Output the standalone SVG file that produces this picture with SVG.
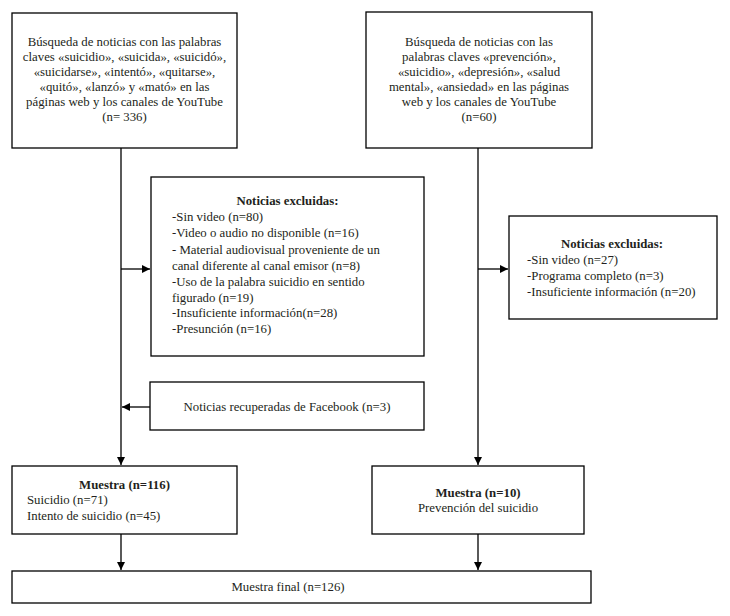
<svg xmlns="http://www.w3.org/2000/svg" width="730" height="616" viewBox="0 0 730 616">
<defs>
<style>
.box{fill:#fff;stroke:#000;stroke-width:1.3}
text{font-family:"Liberation Serif","Times New Roman",serif;font-size:12.8px;fill:#231f20}
.c{text-anchor:middle}
.b{font-weight:bold}
.ln{stroke:#000;stroke-width:1.3;fill:none}
</style>
<marker id="ah" viewBox="0 0 10 10" refX="10" refY="5" markerWidth="8" markerHeight="8" markerUnits="userSpaceOnUse" orient="auto">
<path d="M0,0 L10,5 L0,10 z" fill="#000"/>
</marker>
</defs>
<rect width="730" height="616" fill="#fff"/>
<g id="connectors">
<line class="ln" x1="121" y1="148" x2="121" y2="465" marker-end="url(#ah)"/>
<line class="ln" x1="121" y1="269" x2="150" y2="269" marker-end="url(#ah)"/>
<line class="ln" x1="150" y1="407" x2="122" y2="407" marker-end="url(#ah)"/>
<line class="ln" x1="478" y1="148" x2="478" y2="465" marker-end="url(#ah)"/>
<line class="ln" x1="478" y1="269" x2="508" y2="269" marker-end="url(#ah)"/>
<line class="ln" x1="121" y1="534" x2="121" y2="570" marker-end="url(#ah)"/>
<line class="ln" x1="478" y1="534" x2="478" y2="570" marker-end="url(#ah)"/>
</g>
<g id="search1">
<rect class="box" x="12" y="13" width="225" height="135"/>
<text class="c" x="124.5" y="46">Búsqueda de noticias con las palabras</text>
<text class="c" x="124.5" y="61">claves «suicidio», «suicida», «suicidó»,</text>
<text class="c" x="124.5" y="76">«suicidarse», «intentó», «quitarse»,</text>
<text class="c" x="124.5" y="91">«quitó», «lanzó» y «mató» en las</text>
<text class="c" x="124.5" y="106">páginas web y los canales de YouTube</text>
<text class="c" x="124.5" y="121">(n= 336)</text>
</g>
<g id="search2">
<rect class="box" x="366" y="12" width="226" height="136"/>
<text class="c" x="479" y="46">Búsqueda de noticias con las</text>
<text class="c" x="479" y="61">palabras claves «prevención»,</text>
<text class="c" x="479" y="76">«suicidio», «depresión», «salud</text>
<text class="c" x="479" y="91">mental», «ansiedad» en las páginas</text>
<text class="c" x="479" y="106">web y los canales de YouTube</text>
<text class="c" x="479" y="121">(n=60)</text>
</g>
<g id="excluded1">
<rect class="box" x="151" y="177" width="273" height="179"/>
<text class="c b" x="287.5" y="205">Noticias excluidas:</text>
<text x="172" y="221">-Sin video (n=80)</text>
<text x="172" y="237">-Video o audio no disponible (n=16)</text>
<text x="172" y="254">- Material audiovisual proveniente de un</text>
<text x="172" y="270">canal diferente al canal emisor (n=8)</text>
<text x="172" y="286">-Uso de la palabra suicidio en sentido</text>
<text x="172" y="302">figurado (n=19)</text>
<text x="172" y="317">-Insuficiente información(n=28)</text>
<text x="172" y="333">-Presunción (n=16)</text>
</g>
<g id="excluded2">
<rect class="box" x="509" y="216" width="208" height="103"/>
<text class="c b" x="612" y="248">Noticias excluidas:</text>
<text x="527" y="264">-Sin video (n=27)</text>
<text x="527" y="280">-Programa completo (n=3)</text>
<text x="527" y="296">-Insuficiente información (n=20)</text>
</g>
<g id="facebook">
<rect class="box" x="150" y="382" width="274" height="48"/>
<text class="c" x="287" y="411">Noticias recuperadas de Facebook (n=3)</text>
</g>
<g id="sample1">
<rect class="box" x="12" y="466" width="225" height="68"/>
<text class="c b" x="124.5" y="489">Muestra (n=116)</text>
<text x="27" y="504">Suicidio (n=71)</text>
<text x="27" y="520">Intento de suicidio (n=45)</text>
</g>
<g id="sample2">
<rect class="box" x="372" y="466" width="212" height="68"/>
<text class="c b" x="478" y="497">Muestra (n=10)</text>
<text class="c" x="478" y="512">Prevención del suicidio</text>
</g>
<g id="final">
<rect class="box" x="12" y="571" width="579" height="32"/>
<text class="c" x="288" y="591">Muestra final (n=126)</text>
</g>
</svg>
